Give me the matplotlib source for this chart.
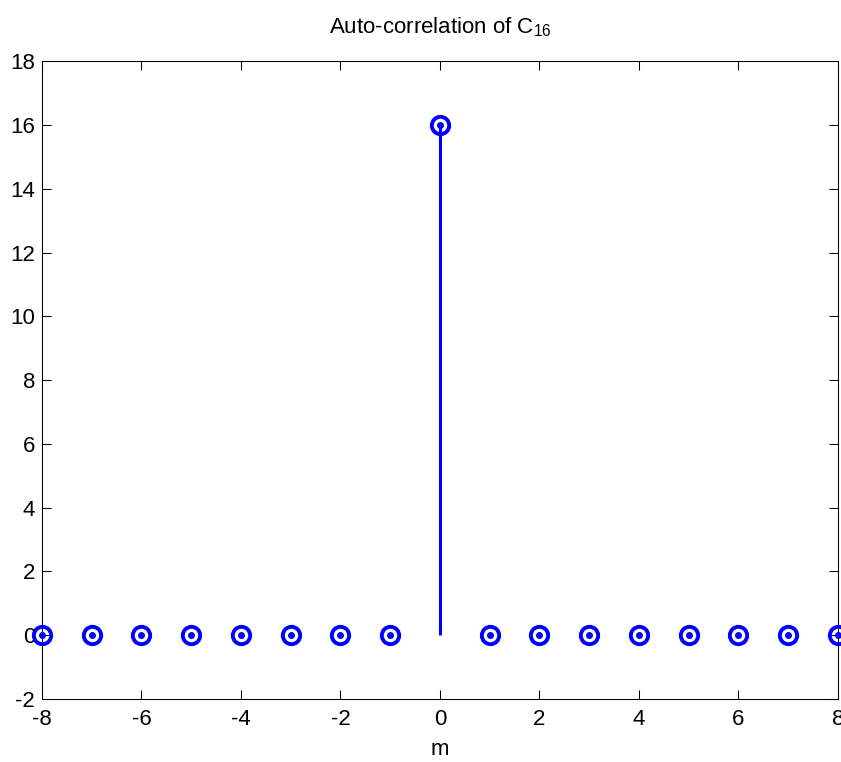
import matplotlib.pyplot as plt
import numpy as np

# Auto-correlation of C_16
lags = np.arange(-8, 9)
values = [0, 0, 0, 0, 0, 0, 0, 0, 16, 0, 0, 0, 0, 0, 0, 0, 0]
x_ticks = [-8, -6, -4, -2, 0, 2, 4, 6, 8]
y_ticks = [-2, 0, 2, 4, 6, 8, 10, 12, 14, 16, 18]

plt.rcParams['font.family'] = ['Liberation Sans', 'DejaVu Sans']
plt.rcParams['mathtext.fontset'] = 'custom'
plt.rcParams['mathtext.rm'] = 'Liberation Sans'
plt.rcParams['mathtext.it'] = 'Liberation Sans'
plt.rcParams['axes.unicode_minus'] = False

fig = plt.figure(figsize=(8.41, 7.62), dpi=100)
ax = fig.add_axes([0.0499, 0.0827, 0.9465, 0.837])

# stems
ax.vlines(lags, 0, values, color='blue', linewidth=2.2)
# circle markers
ax.plot(lags, values, linestyle='none', marker='o', markersize=12.5,
        markerfacecolor='none', markeredgecolor='blue', markeredgewidth=2.8,
        clip_on=False, zorder=3)
# zero-length stems show up as a dot in the middle
ax.plot(lags, values, linestyle='none', marker='o', markersize=4,
        color='blue', clip_on=False, zorder=3)

ax.set_xlim(-8, 8)
ax.set_ylim(-2, 18)
ax.set_xticks(x_ticks)
ax.set_yticks(y_ticks)
ax.tick_params(direction='in', length=6.5, width=0.75, labelsize=16,
               top=True, right=True, pad=5)
ax.tick_params(axis='x', pad=7)
for s in ax.spines.values():
    s.set_linewidth(0.75)

ax.set_xlabel('m', fontsize=16, labelpad=7)
ax.set_title('Auto-correlation of C$_{16}$', fontsize=16, pad=20)

fig.savefig('out.png', dpi=100)
